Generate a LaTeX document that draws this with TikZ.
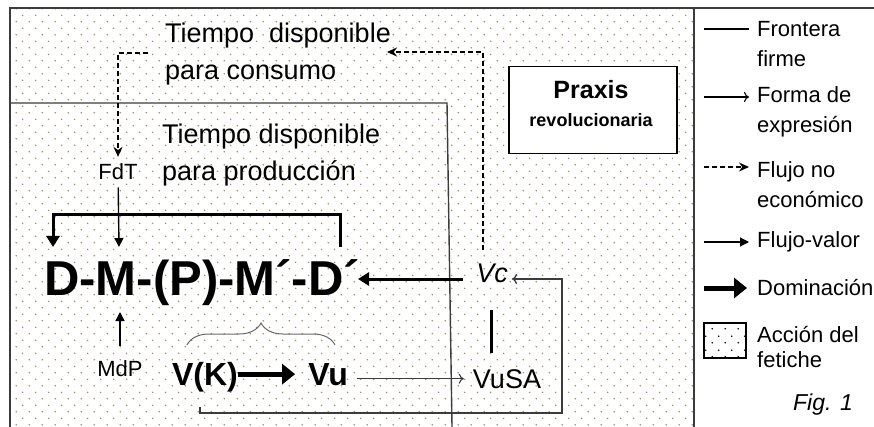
\documentclass[tikz,border=0pt]{standalone}
\usepackage{fontspec}
\setmainfont{Liberation Sans}
\usetikzlibrary{arrows.meta,positioning,calc,decorations.pathreplacing,patterns.meta}
\definecolor{dotbrown}{RGB}{160,144,96}
\definecolor{edgegray}{RGB}{60,60,60}
\definecolor{bracegray}{RGB}{105,105,105}
\tikzdeclarepattern{
  name=fetiche,
  type=uncolored,
  bounding box={(0pt,0pt) and (13.4pt,13.4pt)},
  tile size={(13.4pt,13.4pt)},
  code={
    \fill (3.35pt,3.35pt) circle (0.9pt);
    \fill (10.05pt,10.05pt) circle (0.9pt);
  }
}

\begin{document}
\begin{tikzpicture}[x=1pt,y=-1pt,
  frontier/.style={draw=edgegray,line width=1.4pt},
  expr/.style={-{To[length=5pt,width=10pt]},line width=1.1pt,edgegray},
  noecon/.style={-{Stealth[length=10pt,width=9pt]},line width=1.3pt,dash pattern=on 5pt off 3pt},
  valor/.style={-{Triangle[length=9pt,width=9pt]},line width=1.4pt},
  valorheavy/.style={-{Triangle[length=11pt,width=13pt]},line width=3pt},
  domin/.style={-{Triangle[length=13pt,width=20pt]},line width=5pt},
  bar/.style={line width=3pt},
  circuitfont/.style={font=\fontsize{49}{49}\selectfont\bfseries,inner sep=0pt},
  goods/.style={font=\fontsize{32}{32}\selectfont\bfseries,inner sep=0pt},
  term/.style={font=\fontsize{27}{27}\selectfont,inner sep=0pt},
  termit/.style={font=\fontsize{27}{27}\selectfont\itshape,inner sep=0pt},
  factor/.style={font=\fontsize{22}{22}\selectfont,inner sep=0pt},
  tiempo/.style={font=\fontsize{27}{37}\selectfont,align=left,inner sep=0pt,anchor=north west},
  legend/.style={font=\fontsize{22}{30}\selectfont,align=left,inner sep=0pt,anchor=north west},
  praxisbox/.style={draw,fill=white,line width=1.3pt,minimum width=168pt,minimum height=87pt,inner sep=0pt}
]
\useasboundingbox (0,0) rectangle (874,427);
% fetish field, frame and firm frontier
\path[pattern=fetiche,pattern color=dotbrown] (10,8) rectangle (694,427);
\draw[frontier] (874,8) -- (10,8) -- (10,427);
\draw[frontier] (694,8) -- (694,427);
\draw[frontier] (10,103) -- (447,103) -- (452,427);

% texts
\node[tiempo] (consumo) at (165,23) {Tiempo\ \ disponible\\para consumo};
\node[tiempo] (produccion) at (162,124) {Tiempo disponible\\para producción};
\node[praxisbox] (praxis) at (593,110) {};
\node[font=\fontsize{25}{25}\selectfont\bfseries,inner sep=0pt,anchor=base] (praxistitle) at (591,99) {Praxis};
\node[font=\fontsize{18}{18}\selectfont\bfseries,inner sep=0pt,anchor=base] (praxissub) at (591,127) {revolucionaria};
\node[factor,anchor=base,inner ysep=7pt] (fdt) at (118,180) {FdT};
\node[factor,anchor=base,inner ysep=14pt] (mdp) at (120,376) {MdP};
\node[circuitfont,anchor=base west] (circuit) at (44,295) {D-M-(P)-M´-D´};
\node[goods,anchor=base] (vk) at (205,385) {V(K)};
\node[goods,base right=70pt of vk] (vu) {Vu};
\node[termit,anchor=base] (vc) at (492,283) {Vc};
\node[term,anchor=base] (vusa) at (507,388) {VuSA};

% hooks on the circuit and round Vc
\coordinate (inD) at (53,247);
\coordinate (inM) at (119,247);
\coordinate (outDp) at (340,247);
\coordinate (underM) at (120,312);
\coordinate (inDp) at (358,279);
\coordinate (vcout) at (463,279);
\coordinate (vcin) at (512,279);
\coordinate (vcup) at (483,250);
\coordinate (toconsumo) at (387,52);
\coordinate (fromconsumo) at (148,53);
\coordinate (bartop) at (491,310);
\coordinate (barbot) at (491,353);
\coordinate (loopstart) at (200,407);
\coordinate (loopcorner) at (562,413);
\coordinate (bracel) at (187,345);
\coordinate (bracer) at (335,345);

% flows
\draw[noecon] (vcup) |- (toconsumo);
\draw[noecon] (fromconsumo) -| (fdt);
\draw[valor] (fdt) -- (inM);
\draw[valor] (mdp) -- (underM);
\draw[valorheavy] (outDp) -- ++(0,-32) -| (inD);
\draw[valorheavy] (vcout) -- (inDp);
\draw[domin,shorten >=13pt] (vk.east |- vu) -- (vu);
\draw[expr,shorten <=9pt,shorten >=9pt] (vusa.west -| vu.east) -- (vusa.west);
\draw[expr,line width=1.3pt] (loopstart) |- (loopcorner) |- (vcin);
\draw[bar] (bartop) -- (barbot);
\draw[bracegray,line width=1pt,decorate,decoration={brace,amplitude=22pt}] (bracel) -- (bracer);

% legend
\coordinate (lgA) at (704,29);
\coordinate (lgB) at (704,97);
\coordinate (lgC) at (704,167);
\coordinate (lgD) at (704,242);
\coordinate (lgE) at (704,288);
\draw[line width=1.3pt] (lgA) -- ++(45,0);
\draw[expr,black] (lgB) -- ++(45,0);
\draw[noecon] (lgC) -- ++(45,0);
\draw[valor,line width=1.1pt] (lgD) -- ++(45,0);
\draw[domin] (lgE) -- ++(43,0);
\node[draw,line width=1.2pt,minimum width=42pt,minimum height=35pt,pattern=fetiche,pattern color=black] (lgbox) at (725,340.5) {};
\node[legend] (lgfront) at (757,21) {Frontera\\firme};
\node[legend] (lgform) at (757,86) {Forma de\\expresión};
\node[legend] (lgflujo) at (757,161) {Flujo no\\económico};
\node[legend,anchor=base west] (lgvalor) at (757,248) {Flujo-valor};
\node[legend,anchor=base west] (lgdomin) at (757,295) {Dominación};
\node[legend,font=\fontsize{22}{25}\selectfont] (lgfetiche) at (757,326) {Acción del\\fetiche};
\node[font=\fontsize{23}{23}\selectfont\itshape,anchor=base] (fig) at (823,410) {Fig. 1};
\end{tikzpicture}
\end{document}
